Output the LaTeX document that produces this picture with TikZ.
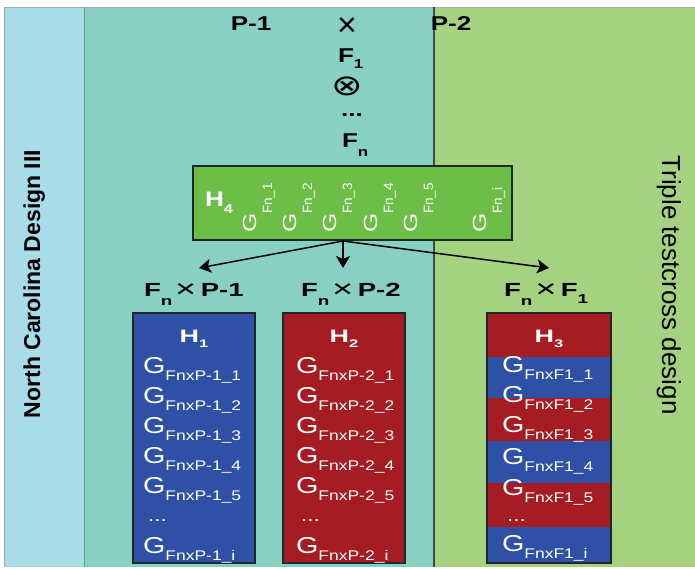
\documentclass[tikz,border=0pt]{standalone}
\usepackage{graphicx}
\usepackage{fontspec}
\setmainfont{Liberation Sans}
\newfontfamily\dejavu{DejaVu Sans}
\usetikzlibrary{arrows.meta}
\definecolor{ltblue}{RGB}{168,220,232}
\definecolor{tealbg}{RGB}{136,208,196}
\definecolor{greenbg}{RGB}{165,210,128}
\definecolor{hgreen}{RGB}{108,190,70}
\definecolor{hblue}{RGB}{46,80,165}
\definecolor{hred}{RGB}{165,28,35}
\definecolor{edgec}{RGB}{30,40,40}
\newcommand\fs[1]{\fontsize{#1}{#1}\selectfont}
\newcommand\lowsub[3]{\raisebox{#1}{\fs{#2}#3}}
\newcommand\crs{\hspace{2pt}\raisebox{-1.5pt}{\mdseries\fs{25}×}\hspace{3pt}}
\newcommand\rgtext[1]{\fs{19}\scalebox{1.3}[1]{G}\lowsub{-16pt}{13.5}{Fn\_#1}}
\begin{document}
\begin{tikzpicture}[x=1pt,y=-1pt,
 txt/.style={inner sep=0pt, outer sep=0pt},
 toplab/.style={txt, font=\fs{20}\bfseries, xscale=1.3},
 crosslab/.style={txt, anchor=base west, font=\fs{19}\bfseries, xscale=1.45},
 gtx/.style={txt, anchor=base west, text=white, xscale=1.25},
 hlab/.style={txt, anchor=base, text=white, font=\fs{18}\bfseries, xscale=1.5},
 rg/.style={txt, anchor=base west, text=white, rotate=90},
 hbox/.style={draw=edgec, line width=1.6pt, inner sep=0pt},
 arr/.style={-{Stealth[length=12pt,width=14pt,inset=3pt]}, line width=1.5pt, black},
]
\useasboundingbox (0,0) rectangle (695,569);
\fill[white] (0,0) rectangle (695,569);
% backgrounds
\fill[ltblue] (4,7) rectangle (84,567);
\fill[tealbg] (84,7) rectangle (434,567);
\fill[greenbg] (434,7) rectangle (695,567);
\draw[gray!70, line width=0.8pt] (695,7) -- (4,7) -- (4,567);
\draw[tealbg!75!black, line width=0.5pt] (84,7) -- (84,567);
\draw[edgec!85, line width=1.2pt] (434,7) -- (434,567);
% side labels
\node[txt, rotate=90, anchor=base, font=\fs{23}\bfseries] (ncd) at (40,284) {North Carolina Design III};
\node[txt, rotate=-90, anchor=base, font=\fs{26}] (ttd) at (662,285) {Triple testcross design};
% top cross
\node[toplab, anchor=base] (p1) at (251,31) {P-1};
\node[txt, anchor=base, font=\fs{34}] (x0) at (347,37) {×};
\node[toplab, anchor=base] (p2) at (451,31) {P-2};
\node[toplab, anchor=base west] (f1) at (338,63) {F\lowsub{-6pt}{13}{1}};
\node[txt, anchor=base, font=\dejavu\fs{29}, xscale=1.3] (ot) at (347,96) {⊗};
\node[toplab, anchor=base] (dots) at (352,117) {...};
\node[toplab, anchor=base west] (fn) at (342,148) {F\lowsub{-9pt}{13}{n}};
% H4 box
\node[hbox, fill=hgreen, minimum width=319pt, minimum height=74pt] (h4) at (352.5,203) {};
\node[txt, anchor=base west, text=white, font=\fs{21}\bfseries, xscale=1.25] (h4l) at (205,207) {H\lowsub{-7pt}{13}{4}};
\node[rg] (g41) at (256,233) {\rgtext{1}};
\node[rg] (g42) at (296,233) {\rgtext{2}};
\node[rg] (g43) at (336,233) {\rgtext{3}};
\node[rg] (g44) at (377,233) {\rgtext{4}};
\node[rg] (g45) at (417,233) {\rgtext{5}};
\node[rg] (g4i) at (486,233) {\rgtext{i}};
% arrows
\coordinate (src) at (343,241);
\coordinate (t1) at (199,268);
\coordinate (t2) at (343,268);
\coordinate (t3) at (549,268);
\draw[arr] (src) -- (t1);
\draw[arr] (src) -- (t2);
\draw[arr] (src) -- (t3);
% cross labels
\node[crosslab] (l1) at (144,296) {F\lowsub{-9pt}{13}{n}\crs P-1};
\node[crosslab] (l2) at (301,296) {F\lowsub{-9pt}{13}{n}\crs P-2};
\node[crosslab] (l3) at (504,296) {F\lowsub{-9pt}{13}{n}\crs F\lowsub{-7pt}{13}{1}};
% H1 box
\node[hbox, fill=hblue, minimum width=122pt, minimum height=250pt] (h1) at (194,438) {};
\node[hlab] (h1l) at (194,342) {H\lowsub{-5pt}{11}{1}};
\node[gtx] (a1) at (143,373) {\fs{23}G\lowsub{-7pt}{14}{FnxP-1\_1}};
\node[gtx] (a2) at (143,403) {\fs{23}G\lowsub{-7pt}{14}{FnxP-1\_2}};
\node[gtx] (a3) at (143,433) {\fs{23}G\lowsub{-7pt}{14}{FnxP-1\_3}};
\node[gtx] (a4) at (143,463) {\fs{23}G\lowsub{-7pt}{14}{FnxP-1\_4}};
\node[gtx] (a5) at (143,493) {\fs{23}G\lowsub{-7pt}{14}{FnxP-1\_5}};
\node[gtx] (ad) at (148,521) {\fs{18}...};
\node[gtx] (ai) at (143,553) {\fs{23}G\lowsub{-7pt}{14}{FnxP-1\_i}};
% H2 box
\node[hbox, fill=hred, minimum width=122pt, minimum height=250pt] (h2) at (344,438) {};
\node[hlab] (h2l) at (344,342) {H\lowsub{-5pt}{11}{2}};
\node[gtx] (b1) at (296,373) {\fs{23}G\lowsub{-7pt}{14}{FnxP-2\_1}};
\node[gtx] (b2) at (296,403) {\fs{23}G\lowsub{-7pt}{14}{FnxP-2\_2}};
\node[gtx] (b3) at (296,433) {\fs{23}G\lowsub{-7pt}{14}{FnxP-2\_3}};
\node[gtx] (b4) at (296,463) {\fs{23}G\lowsub{-7pt}{14}{FnxP-2\_4}};
\node[gtx] (b5) at (296,493) {\fs{23}G\lowsub{-7pt}{14}{FnxP-2\_5}};
\node[gtx] (bd) at (301,521) {\fs{18}...};
\node[gtx] (bi) at (296,553) {\fs{23}G\lowsub{-7pt}{14}{FnxP-2\_i}};
% H3 box stripes
\fill[hred] (487,313) rectangle (611,357);
\fill[hblue] (487,357) rectangle (611,398);
\fill[hred] (487,398) rectangle (611,441);
\fill[hblue] (487,441) rectangle (611,483);
\fill[hred] (487,483) rectangle (611,527);
\fill[hblue] (487,527) rectangle (611,563);
\node[hbox, minimum width=124pt, minimum height=250pt] (h3) at (549,438) {};
\node[hlab] (h3l) at (549,342) {H\lowsub{-5pt}{11}{3}};
\node[gtx] (c1) at (502,372) {\fs{23}G\lowsub{-7pt}{14}{FnxF1\_1}};
\node[gtx] (c2) at (502,402) {\fs{23}G\lowsub{-7pt}{14}{FnxF1\_2}};
\node[gtx] (c3) at (502,432) {\fs{23}G\lowsub{-7pt}{14}{FnxF1\_3}};
\node[gtx] (c4) at (502,464) {\fs{23}G\lowsub{-7pt}{14}{FnxF1\_4}};
\node[gtx] (c5) at (502,495) {\fs{23}G\lowsub{-7pt}{14}{FnxF1\_5}};
\node[gtx] (cd) at (507,521) {\fs{18}...};
\node[gtx] (ci) at (502,551) {\fs{23}G\lowsub{-7pt}{14}{FnxF1\_i}};
\end{tikzpicture}
\end{document}
